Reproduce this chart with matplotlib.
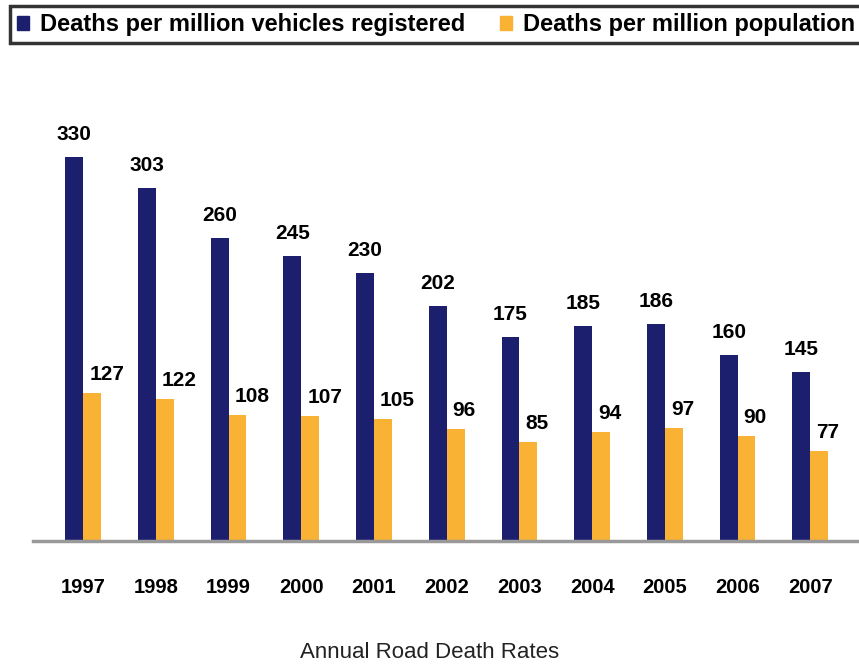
import matplotlib
matplotlib.use("Agg")
import matplotlib.pyplot as plt
from matplotlib import font_manager
from matplotlib.patches import Patch
from matplotlib.transforms import offset_copy
import numpy as np

years = ["1997", "1998", "1999", "2000", "2001", "2002", "2003", "2004", "2005", "2006", "2007"]
vehicles = [330, 303, 260, 245, 230, 202, 175, 185, 186, 160, 145]
population = [127, 122, 108, 107, 105, 96, 85, 94, 97, 90, 77]
series_names = ["Deaths per million vehicles registered", "Deaths per million population"]
title = "Annual Road Death Rates"

names = {f.name for f in font_manager.fontManager.ttflist}
fam = ["Liberation Sans Narrow", "Liberation Sans", "DejaVu Sans"]
fam = [f for f in fam if f in names] or ["DejaVu Sans"]
plt.rcParams['font.family'] = fam

navy = "#1C1F6E"
orange = "#F9B233"

fig = plt.figure(figsize=(8.59, 6.68), dpi=100)
ax = fig.add_axes([33/859, (668-541)/668, 1-33/859, (541-60)/668])

x = np.arange(len(years))
w = 0.245
ax.bar(x - w/2, vehicles, w, color=navy)
ax.bar(x + w/2, population, w, color=orange)

t_navy = offset_copy(ax.transData, fig=fig, x=0, y=13, units='dots')
t_orange = offset_copy(ax.transData, fig=fig, x=6, y=9, units='dots')
for i in range(len(years)):
    ax.text(x[i] - w/2, vehicles[i], str(vehicles[i]), ha='center', va='bottom',
            fontsize=15, fontweight='bold', transform=t_navy)
    ax.text(x[i], population[i], str(population[i]), ha='left', va='bottom',
            fontsize=15, fontweight='bold', transform=t_orange)

ax.set_xlim(-0.69, 10.67)
ax.set_ylim(0, 413)
ax.set_yticks([])
ax.set_xticks(x)
ax.set_xticklabels(years, fontsize=14.5, fontweight='bold')
ax.tick_params(axis='x', length=0, pad=26.5)
for s in ['top', 'right', 'left']:
    ax.spines[s].set_visible(False)
ax.spines['bottom'].set_color('#999999')
ax.spines['bottom'].set_linewidth(2.5)

handles = [Patch(color=navy), Patch(color=orange)]
leg = fig.legend(handles, series_names, loc='upper left', bbox_to_anchor=(10/859, 1 - 6/668),
                 ncol=2, prop={'weight': 'bold', 'size': 17},
                 frameon=True, fancybox=False, handlelength=0.5, handleheight=0.55,
                 handletextpad=0.45, columnspacing=1.5, borderpad=0.3, borderaxespad=0)
leg.get_frame().set_edgecolor('black')
leg.get_frame().set_linewidth(2.5)

fig.text(430/859, 1 - 652/668, title, ha='center', va='center', fontsize=16, color='#222222')

fig.savefig("out.png", dpi=100)
